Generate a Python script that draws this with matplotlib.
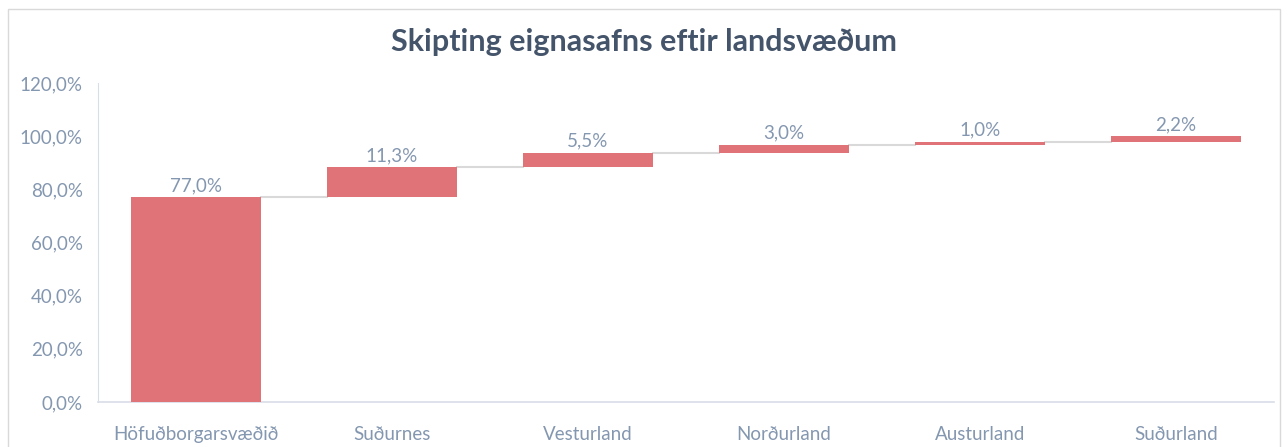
import numpy as np
import matplotlib.pyplot as plt
from matplotlib.patches import Rectangle
from matplotlib.ticker import FuncFormatter

# gögn
svaedi = ['Höfuðborgarsvæðið', 'Suðurnes', 'Vesturland', 'Norðurland', 'Austurland', 'Suðurland']
hlutfall = [77.0, 11.3, 5.5, 3.0, 1.0, 2.2]

bar_col = '#E07378'
txt_col = '#8497B0'
title_col = '#44546A'

plt.rcParams['font.family'] = ['Lato', 'DejaVu Sans']

fig = plt.figure(figsize=(12.88, 4.47), dpi=100)
ax = fig.add_axes([0.0761, 0.1007, 0.9129, 0.7136])

x = np.arange(len(svaedi))
botn = np.concatenate([[0], np.cumsum(hlutfall)[:-1]])
toppur = botn + np.array(hlutfall)
w = 0.66

ax.bar(x, hlutfall, bottom=botn, width=w, color=bar_col, zorder=3)

# tengilínur milli súlna
for i in range(len(x) - 1):
    ax.plot([x[i] + w / 2, x[i + 1] - w / 2], [toppur[i], toppur[i]],
            color='#D9D9D9', lw=1.5, zorder=2)

for i in range(len(x)):
    ax.text(x[i], toppur[i] + 1.2, ('%.1f%%' % hlutfall[i]).replace('.', ','),
            ha='center', va='bottom', fontsize=13.5, color=txt_col)

ax.set_xlim(-0.5, len(x) - 0.5)
ax.set_ylim(0, 120)
ax.set_yticks(np.arange(0, 121, 20))
ax.yaxis.set_major_formatter(FuncFormatter(lambda v, p: ('%.1f%%' % v).replace('.', ',')))
ax.set_xticks(x)
ax.set_xticklabels(svaedi)
ax.tick_params(axis='both', length=0, labelsize=13.5, colors=txt_col)
ax.tick_params(axis='x', pad=17)
ax.tick_params(axis='y', pad=11)

for s in ['top', 'right']:
    ax.spines[s].set_visible(False)
ax.spines['left'].set_color('#D9DDE6')
ax.spines['bottom'].set_color('#D9DDE6')
ax.spines['bottom'].set_linewidth(1.2)

fig.text(0.5, 0.905, 'Skipting eignasafns eftir landsvæðum', ha='center', va='center',
         fontsize=22, fontweight='bold', color=title_col)

fig.patches.append(Rectangle((0.006, -0.02), 0.988, 1.0, transform=fig.transFigure,
                             fill=False, edgecolor='#D9D9D9', lw=1))

fig.savefig('out.png', dpi=100)
